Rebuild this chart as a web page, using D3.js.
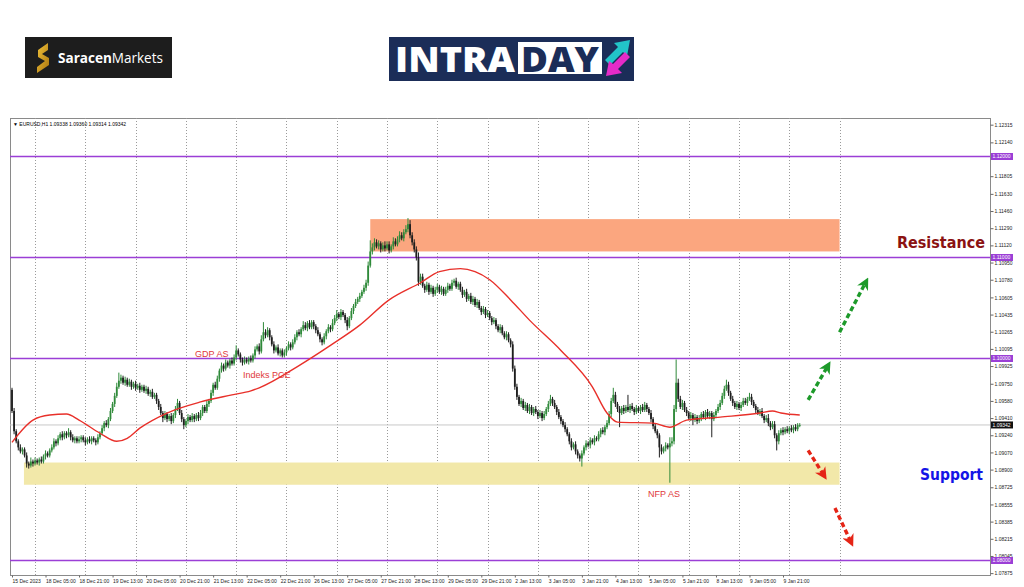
<!DOCTYPE html>
<html><head><meta charset="utf-8">
<script src="https://cdn.jsdelivr.net/npm/d3@7"></script>
<style>body{margin:0;background:#fff}svg{display:block}</style>
</head><body><svg id="c" width="1024" height="587"></svg>
<script>
// ---------- DATA (prices in pips above PRICE_BASE) ----------
const PRICE_BASE = 1.08, PIP = 0.0001;
const symbolHeader = "EURUSD,H1  1.09338 1.09360 1.09314 1.09342";
const firstOpenPips = 169;
const closePips = [
148,128,118,112,108,110,104,96,94,98,
96,99,97,100,98,103,106,104,109,112,
118,116,121,125,122,126,124,127,122,119,
121,118,120,122,119,117,120,118,121,119,
117,122,126,131,136,134,140,148,155,163,
172,178,181,176,179,174,177,172,175,171,
173,169,172,168,170,165,167,162,164,158,
152,146,141,145,140,143,138,144,150,156,
146,140,134,138,142,139,143,140,144,141,
146,152,148,155,158,166,174,171,180,188,
193,190,196,193,198,195,201,208,204,199,
196,199,197,200,198,203,209,212,207,219,
226,223,228,221,214,208,211,205,208,203,
206,210,214,211,216,221,226,224,229,233,
230,235,231,236,232,228,224,219,216,222,
227,231,229,235,240,244,241,246,243,238,
232,240,247,252,256,259,262,266,270,275,
292,306,310,315,311,314,308,312,309,313,
307,311,316,313,318,322,319,325,328,333,
322,315,308,300,276,281,272,268,273,266,
270,264,268,271,266,269,264,268,272,269,
275,277,271,274,268,263,266,259,262,256,
259,253,256,250,246,249,243,245,240,236,
238,232,228,231,225,221,224,218,214,190,
172,162,155,158,151,154,148,152,146,150,
147,143,146,141,145,150,155,160,156,152,
147,142,138,134,130,125,118,112,115,108,
104,101,106,112,116,114,119,117,121,120,
125,129,127,132,136,145,158,164,155,150,
146,151,148,152,149,153,150,147,151,148,
152,149,154,150,146,140,133,128,124,112,
108,111,114,112,116,118,150,176,160,152,
156,149,146,141,144,139,142,138,141,145,
142,147,143,146,140,144,148,152,156,163,
170,174,166,160,156,152,155,151,154,158,
156,160,162,157,153,149,146,148,143,139,
141,136,132,135,124,118,126,129,127,130,
128,131,129,132,130,134,134];
const wickUp = [
2,3,2,2,3,2,2,3,2,4, 2,3,2,2,3,2,3,2,2,3, 3,2,3,2,3,2,2,4,2,3, 2,2,3,2,2,3,2,3,2,2,
2,3,2,3,2,3,2,3,2,3, 4,8,3,2,3,2,3,2,2,3, 2,3,2,2,3,2,2,3,2,2, 2,3,2,3,2,2,3,2,3,4,
2,3,2,2,3,2,3,2,2,3, 3,2,2,3,2,3,2,3,3,2, 3,2,3,2,2,3,3,5,2,2, 2,3,2,2,3,2,3,2,3,4,
10,3,3,2,2,3,2,3,2,2, 3,2,3,2,3,3,2,3,2,4, 3,2,3,2,2,2,3,2,2,3, 2,3,2,4,3,4,2,3,2,2,
3,2,3,2,3,2,3,2,3,3, 4,11,4,4,3,3,2,3,4,3, 3,2,4,3,3,4,3,3,4,6, 4,3,3,3,5,3,3,2,3,2,
3,2,3,3,2,3,2,3,3,2, 3,2,3,2,2,3,2,3,2,3, 3,2,3,2,2,3,2,3,2,2, 3,2,2,3,2,2,3,2,2,3,
3,3,2,3,2,3,2,3,2,2, 3,2,3,2,3,2,3,4,2,3, 2,3,2,2,3,2,2,3,2,3, 2,2,3,2,3,2,3,2,3,2,
3,2,3,2,3,3,3,7,3,2, 3,2,3,2,12,2,3,2,3,2, 2,3,3,2,2,3,2,3,2,2, 3,2,3,2,6,4,4,23,4,3,
3,2,3,2,3,2,3,2,3,2, 3,2,3,2,2,3,2,3,3,3, 3,5,3,2,3,2,3,2,3,3, 3,2,4,3,2,2,3,2,3,2,
3,4,2,3,3,2,3,2,3,2, 3,2,3,2,3,2,2];
const wickDn = [
2,3,2,3,2,3,2,4,3,2, 3,2,2,3,2,2,3,2,2,2, 2,3,2,2,3,2,3,2,3,2, 3,2,2,3,2,3,2,2,3,2,
3,2,2,2,3,2,3,2,2,3, 2,2,3,2,3,2,2,3,2,3, 2,3,2,2,3,2,3,2,2,3, 3,2,4,2,3,2,3,2,3,2,
2,3,4,2,3,2,2,3,2,3, 2,3,2,2,3,2,3,2,2,3, 2,3,2,2,3,2,2,3,2,3, 3,2,2,3,2,2,3,2,3,2,
2,3,2,3,2,3,2,2,3,2, 2,3,2,3,2,2,3,2,3,2, 2,3,2,2,3,3,2,3,3,2, 3,2,3,2,2,3,2,3,2,3,
4,2,2,3,2,2,3,2,2,3, 3,2,3,3,2,3,3,2,3,2, 3,2,3,2,2,3,2,3,2,3, 3,3,3,3,4,3,2,3,2,3,
2,3,2,3,2,3,2,2,3,2, 2,3,2,3,2,3,2,3,2,2, 3,2,3,2,3,2,3,2,2,3, 2,3,2,3,2,2,3,2,3,3,
3,3,2,3,2,3,2,3,2,3, 2,3,2,3,2,2,3,2,3,2, 3,2,3,2,3,2,3,3,2,3, 3,3,8,2,3,2,3,2,3,2,
2,3,2,3,2,2,3,2,3,3, 14,2,3,2,2,3,2,3,2,2, 3,2,2,3,2,3,3,2,3,10, 3,2,3,2,35,3,3,3,3,2,
3,2,3,2,3,5,2,3,2,3, 2,3,2,3,18,2,3,2,3,2, 3,2,3,2,3,2,3,2,3,2, 2,3,2,3,2,3,2,3,2,3,
2,3,3,2,3,9,3,2,3,2, 2,3,2,3,2,2,2];
// moving average line (read points: bar index, pips)
const maBars = [0,10,18,26,32,42,50,55,61,74,90,105,114,118,137,152,166,180,195,204,214,221,228,238,247,262,277,284,289,306,314,322,338,357,363,367,376];
const maPips = [117,139,144,145,139,126,118,121,131,146,157,164,168,171,193,213,233,258,275,286,289,286,278,258,238,208,172,146,137,136,132,139,142,146,148,146,144];
// time axis labels (every 16 bars)
const xLabels = ["15 Dec 2023","18 Dec 05:00","18 Dec 21:00","19 Dec 13:00","20 Dec 05:00","20 Dec 21:00","21 Dec 13:00","22 Dec 05:00","22 Dec 21:00","26 Dec 13:00","27 Dec 05:00","27 Dec 21:00","28 Dec 13:00","29 Dec 05:00","29 Dec 21:00","2 Jan 13:00","3 Jan 05:00","3 Jan 21:00","4 Jan 13:00","5 Jan 05:00","5 Jan 21:00","8 Jan 13:00","9 Jan 05:00","9 Jan 21:00"];
const gridBars = [11,35,59,83,107,131,155,179,203,227,251,275,299,323,347,371,395];
const yTicks = [1.12315,1.12140,1.11805,1.11630,1.11460,1.11290,1.11120,1.10950,1.10780,1.10605,1.10435,1.10265,1.10095,1.09925,1.09750,1.09580,1.09410,1.09240,1.09070,1.08900,1.08725,1.08555,1.08385,1.08215,1.08045,1.07875];
const levels = [1.12000,1.11000,1.10000,1.08000];
const lastPrice = 1.09342;
// zones: [startBar, endBar, topPrice, bottomPrice]
const resistanceZone = [171, 395, 1.1138, 1.1106];
const supportZone = [5.7, 395, 1.0897, 1.0875];
// annotations
const annoText = ["GDP AS","Indeks PCE","NFP AS"];
const annoBar = [87.4, 110.3, 303.6];
const annoPrice = [1.1001, 1.0981, 1.0863];
const zoneLabels = ["Resistance","Support"];
const zoneLabelBar = [422.4, 433.4];
const zoneLabelPrice = [1.1109, 1.0880];
// arrows: [barFrom, priceFrom, barTo, priceTo]
const upArrows = [[395,1.1026,407.6,1.1076],[380,1.0959,389.5,1.0993]];
const downArrows = [[380,1.0909,387.6,1.0884],[392.8,1.0852,400.5,1.0818]];

// ---------- DRAW ----------
const svg = d3.select('#c');
const F = {l:10, r:990, t:118, b:575};
const x = d3.scaleLinear().domain([0,368]).range([12,783]);
const y = d3.scaleLinear().domain([1.08,1.12]).range([560.5,156.5]);
const P = v => PRICE_BASE + v*PIP;
const defs = svg.append('defs');
defs.append('clipPath').attr('id','plot').append('rect').attr('x',F.l).attr('y',F.t).attr('width',F.r-F.l).attr('height',F.b-F.t);

// logos
const g1 = svg.append('g');
g1.append('rect').attr('x',25).attr('y',37).attr('width',147).attr('height',41).attr('fill','#1d1d1d');
const gg = defs.append('linearGradient').attr('id','gold').attr('x1',0).attr('y1',0).attr('x2',1).attr('y2',1);
gg.append('stop').attr('offset',0).attr('stop-color','#f2c33a');
gg.append('stop').attr('offset',1).attr('stop-color','#a8740e');
g1.append('path').attr('d','M48,43 L38,50 L38,57 L45,61 L37,67 L37,73 L49,65 L49,58 L42,54 L48,50 Z').attr('fill','url(#gold)');
g1.append('text').attr('x',58).attr('y',63).attr('font-family','Open Sans, sans-serif').attr('font-size',14).attr('fill','#fff')
  .attr('textLength',105).attr('lengthAdjust','spacingAndGlyphs')
  .call(t=>{t.append('tspan').attr('font-weight',700).text('Saracen');t.append('tspan').attr('font-weight',400).text('Markets');});
const g2 = svg.append('g');
g2.append('rect').attr('x',389).attr('y',37).attr('width',245).attr('height',44).attr('fill','#1b2d58');
g2.append('rect').attr('x',518).attr('y',42).attr('width',84).attr('height',32).attr('fill','#fff');
g2.append('text').attr('x',395).attr('y',72).attr('font-family','Open Sans, sans-serif').attr('font-weight',800).attr('font-size',36).attr('fill','#fff').attr('textLength',120).attr('lengthAdjust','spacingAndGlyphs').text('INTRA');
g2.append('text').attr('x',521).attr('y',72).attr('font-family','Open Sans, sans-serif').attr('font-weight',800).attr('font-size',36).attr('fill','#1b2d58').attr('textLength',78).attr('lengthAdjust','spacingAndGlyphs').text('DAY');
g2.append('path').attr('d','M605,60 L618,47 L614,43 L630,40 L627,56 L623,52 L610,65 Z').attr('fill','#22c4c8');
g2.append('path').attr('d','M630,57 L618,69 L622,73 L606,76 L609,61 L613,64 L625,52 Z').attr('fill','#e52bc8');

// frame
svg.append('rect').attr('x',F.l+0.5).attr('y',F.t+0.5).attr('width',F.r-F.l).attr('height',F.b-F.t).attr('fill','#fff').attr('stroke','#8a8a8a');
const plot = svg.append('g').attr('clip-path','url(#plot)');

// grid
plot.selectAll('.vg').data(gridBars).join('line').attr('x1',d=>Math.round(x(d))+0.5).attr('x2',d=>Math.round(x(d))+0.5)
  .attr('y1',F.t).attr('y2',F.b).attr('stroke','#9a9a9a').attr('stroke-dasharray','1,2');

// zones
[[resistanceZone,'#fba67f'],[supportZone,'#f2e8a9']].forEach(([z,c])=>{
  plot.append('rect').attr('x',x(z[0])).attr('width',x(z[1])-x(z[0])).attr('y',y(z[2])).attr('height',y(z[3])-y(z[2])).attr('fill',c);
});

// bid line
plot.append('line').attr('x1',F.l).attr('x2',F.r).attr('y1',y(lastPrice)).attr('y2',y(lastPrice)).attr('stroke','#c8c8c8');

// level lines
plot.selectAll('.lv').data(levels).join('line').attr('x1',F.l).attr('x2',F.r).attr('y1',d=>y(d)).attr('y2',d=>y(d)).attr('stroke','#9b3fd6').attr('stroke-width',1.6);

// candles
const bars = closePips.map((c,i)=>{const o = i===0?firstOpenPips:closePips[i-1];
  return {i,o:P(o),c:P(c),h:P(Math.max(o,c)+wickUp[i]),l:P(Math.min(o,c)-wickDn[i])};});
const cg = plot.append('g');
cg.selectAll('.wk').data(bars).join('line').attr('x1',d=>x(d.i)).attr('x2',d=>x(d.i)).attr('y1',d=>y(d.h)).attr('y2',d=>y(d.l))
  .attr('stroke',d=>d.c>=d.o?'#2f8a3a':'#1e1e1e').attr('stroke-width',1);
cg.selectAll('.bd').data(bars).join('rect').attr('x',d=>x(d.i)-0.9).attr('width',1.8)
  .attr('y',d=>y(Math.max(d.o,d.c))).attr('height',d=>Math.max(0.8,Math.abs(y(d.o)-y(d.c))))
  .attr('fill',d=>d.c>=d.o?'#2f8a3a':'#1e1e1e');

// moving average
const ma = maBars.map((b,k)=>[b,maPips[k]]);
plot.append('path').attr('d',d3.line().x(d=>x(d[0])).y(d=>y(P(d[1]))).curve(d3.curveMonotoneX)(ma))
  .attr('fill','none').attr('stroke','#e8302a').attr('stroke-width',1.4);

// annotations
annoText.forEach((t,k)=>{
  svg.append('text').attr('x',x(annoBar[k])).attr('y',y(annoPrice[k])).attr('font-family','Liberation Sans, Arial, sans-serif')
    .attr('font-size',9).attr('fill','#e0383a').text(t);
});
const zl = [['#8b1212',88],['#1414e6',63]];
zoneLabels.forEach((t,k)=>{
  svg.append('text').attr('x',x(zoneLabelBar[k])).attr('y',y(zoneLabelPrice[k])).attr('font-family','DejaVu Sans, Arial, sans-serif')
    .attr('font-weight',700).attr('font-size',16).attr('fill',zl[k][0]).attr('textLength',zl[k][1]).attr('lengthAdjust','spacingAndGlyphs').text(t);
});

// arrows
function mk(id,col){defs.append('marker').attr('id',id).attr('viewBox','0 0 10 10').attr('refX',6).attr('refY',5)
  .attr('markerWidth',3.6).attr('markerHeight',3.6).attr('orient','auto')
  .append('path').attr('d','M0,0 L10,5 L0,10 L3,5 Z').attr('fill',col);}
mk('ag','#1d9a2a'); mk('ar','#e52416');
upArrows.forEach(a=>svg.append('line').attr('x1',x(a[0])).attr('y1',y(a[1])).attr('x2',x(a[2])).attr('y2',y(a[3]))
  .attr('stroke','#1d9a2a').attr('stroke-width',3.4).attr('stroke-dasharray','5,3').attr('marker-end','url(#ag)'));
downArrows.forEach(a=>svg.append('line').attr('x1',x(a[0])).attr('y1',y(a[1])).attr('x2',x(a[2])).attr('y2',y(a[3]))
  .attr('stroke','#e52416').attr('stroke-width',3.4).attr('stroke-dasharray','5,3').attr('marker-end','url(#ar)'));

// header text
svg.append('text').attr('x',13).attr('y',126).attr('font-family','Liberation Sans, Arial, sans-serif').attr('font-size',5).attr('fill','#000')
  .text('\u25BC ' + symbolHeader);

// y axis
const ya = svg.append('g').attr('transform',`translate(${F.r+0.5},0)`)
  .call(d3.axisRight(y).tickValues(yTicks).tickFormat(d3.format('.5f')).tickSize(3).tickPadding(1));
ya.select('.domain').remove();
ya.selectAll('line').attr('stroke','#666');
ya.selectAll('text').attr('font-family','Liberation Sans, Arial, sans-serif').attr('font-size',5).attr('fill','#222');
// level boxes
const lb = svg.append('g');
levels.concat([lastPrice]).forEach((v,k)=>{
  const isLast = k===levels.length;
  lb.append('rect').attr('x',F.r+1).attr('y',y(v)-3.5).attr('width',22).attr('height',7).attr('fill',isLast?'#111':'#9b3fd6');
  lb.append('text').attr('x',F.r+2.5).attr('y',y(v)+1.8).attr('font-family','Liberation Sans, Arial, sans-serif').attr('font-size',5).attr('fill','#fff').text(v.toFixed(5));
});

// x axis
const xa = svg.append('g').attr('transform',`translate(0,${F.b+0.5})`)
  .call(d3.axisBottom(x).tickValues(xLabels.map((_,k)=>k*16)).tickFormat((d,k)=>xLabels[k]).tickSize(2).tickPadding(2));
xa.select('.domain').remove();
xa.selectAll('line').attr('stroke','#666');
xa.selectAll('text').attr('text-anchor','start').attr('font-family','Liberation Sans, Arial, sans-serif').attr('font-size',5).attr('fill','#222');
</script></body></html>
